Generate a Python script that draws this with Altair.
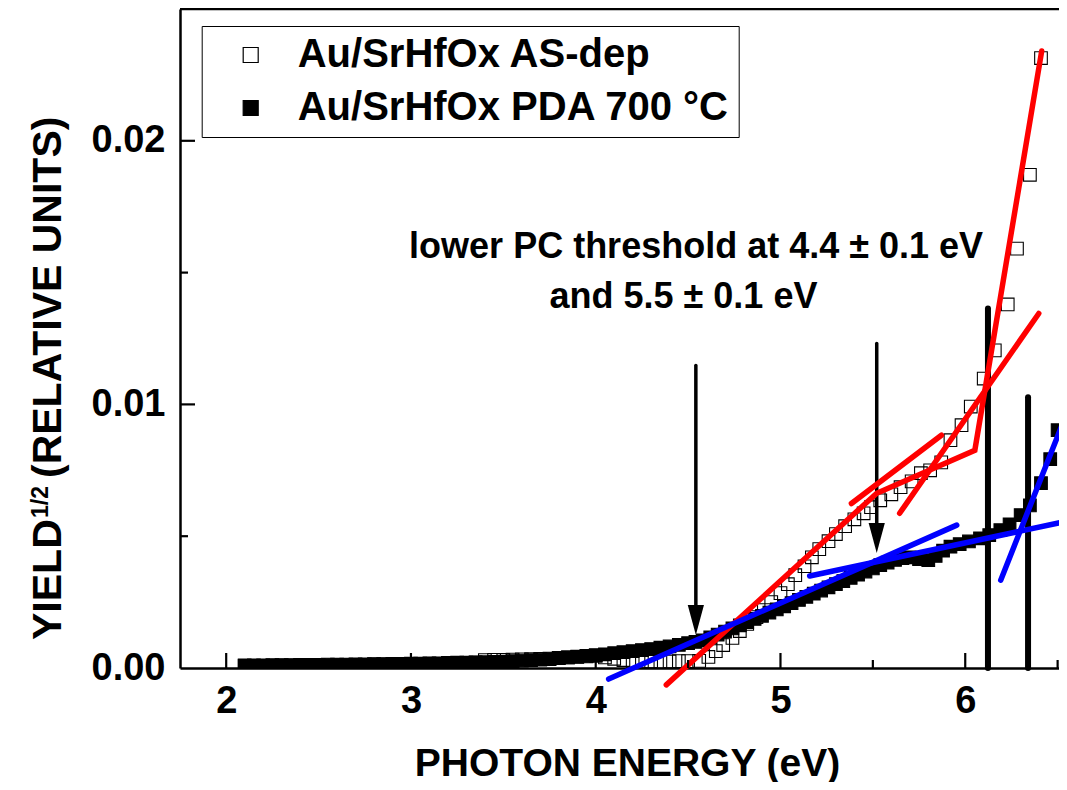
import altair as alt
import pandas as pd

FONT = "Liberation Sans"
AS_LABEL = "Au/SrHfOx AS-dep"
PDA_LABEL = "Au/SrHfOx PDA 700 °C"

# ---- open squares: Au/SrHfOx AS-dep ----
as_energy = [2.10, 2.15, 2.20, 2.25, 2.30, 2.35, 2.40, 2.45, 2.50, 2.55,
             2.60, 2.65, 2.70, 2.75, 2.80, 2.85, 2.90, 2.95, 3.00, 3.05,
             3.10, 3.15, 3.20, 3.25, 3.30, 3.35, 3.40, 3.45, 3.50, 3.55,
             3.60, 3.65, 3.70, 3.75, 3.80, 3.85, 3.90, 3.95, 4.00, 4.05,
             4.10, 4.15, 4.20, 4.25, 4.30, 4.35, 4.40, 4.45, 4.50,
             4.56, 4.61, 4.65, 4.69, 4.74, 4.78, 4.82, 4.87, 4.91, 4.95,
             5.00, 5.04, 5.08, 5.13, 5.17, 5.21, 5.26, 5.30, 5.35, 5.40,
             5.45, 5.49, 5.54, 5.60, 5.65, 5.71, 5.76, 5.81, 5.87, 5.92,
             5.98, 6.03, 6.10, 6.16, 6.23, 6.28, 6.35, 6.41]
as_yield = [0.00008, 0.00008, 0.00008, 0.00008, 0.00009, 0.00009, 0.00009, 0.00009, 0.00010, 0.00010,
            0.00011, 0.00011, 0.00012, 0.00012, 0.00013, 0.00013, 0.00014, 0.00014, 0.00015, 0.00015,
            0.00016, 0.00016, 0.00017, 0.00018, 0.00019, 0.00020, 0.00030, 0.00031, 0.00031, 0.00032,
            0.00033, 0.00034, 0.00035, 0.00036, 0.00038, 0.00040, 0.00042, 0.00044, 0.00046, 0.00040,
            0.00035, 0.00030, 0.00027, 0.00025, 0.00025, 0.00024, 0.00025, 0.00026, 0.00026,
            0.00027, 0.00042, 0.00064, 0.00087, 0.00114, 0.00140, 0.00167, 0.00193, 0.00220, 0.00250,
            0.00284, 0.00318, 0.00352, 0.00386, 0.00420, 0.00451, 0.00481, 0.00508, 0.00538, 0.00564,
            0.00587, 0.00610, 0.00636, 0.00659, 0.00686, 0.00708, 0.00739, 0.00750, 0.00780, 0.00864,
            0.00921, 0.00992, 0.01098, 0.01205, 0.01379, 0.01591, 0.01871, 0.02314]

# ---- filled squares: Au/SrHfOx PDA 700 °C ----
pda_energy = [2.10, 2.15, 2.20, 2.25, 2.30, 2.35, 2.40, 2.45, 2.50, 2.55,
              2.60, 2.65, 2.70, 2.75, 2.80, 2.85, 2.90, 2.95, 3.00, 3.05,
              3.10, 3.15, 3.20, 3.25, 3.30, 3.35, 3.40, 3.45, 3.50, 3.55,
              3.60, 3.65, 3.70, 3.75, 3.80, 3.85, 3.90, 3.95, 4.00, 4.05,
              4.10, 4.15, 4.20, 4.25, 4.30, 4.35, 4.40, 4.45, 4.50,
              4.54, 4.58, 4.62, 4.66, 4.70, 4.74, 4.78, 4.82, 4.86, 4.90,
              4.94, 4.98, 5.02, 5.06, 5.10, 5.14, 5.18, 5.22, 5.26, 5.30,
              5.34, 5.38, 5.42, 5.46, 5.50, 5.54, 5.58, 5.62, 5.66, 5.70,
              5.75, 5.80, 5.84, 5.88, 5.92, 5.97, 6.02, 6.08, 6.13, 6.19,
              6.24, 6.30, 6.35, 6.41, 6.46, 6.50]
pda_yield = [0.00010, 0.00010, 0.00010, 0.00011, 0.00011, 0.00011, 0.00012, 0.00012, 0.00012, 0.00013,
             0.00013, 0.00013, 0.00014, 0.00014, 0.00015, 0.00015, 0.00016, 0.00016, 0.00017, 0.00017,
             0.00018, 0.00018, 0.00019, 0.00020, 0.00020, 0.00021, 0.00022, 0.00023, 0.00024, 0.00026,
             0.00028, 0.00030, 0.00032, 0.00034, 0.00037, 0.00040, 0.00043, 0.00046, 0.00049, 0.00052,
             0.00056, 0.00060, 0.00064, 0.00068, 0.00072, 0.00077, 0.00082, 0.00088, 0.00094,
             0.00099, 0.00105, 0.00116, 0.00127, 0.00138, 0.00150, 0.00162, 0.00174, 0.00186, 0.00198,
             0.00210, 0.00222, 0.00234, 0.00246, 0.00258, 0.00270, 0.00282, 0.00294, 0.00306, 0.00318,
             0.00330, 0.00342, 0.00354, 0.00366, 0.00378, 0.00390, 0.00400, 0.00410, 0.00417, 0.00420,
             0.00413, 0.00409, 0.00425, 0.00445, 0.00460, 0.00470, 0.00480, 0.00492, 0.00504, 0.00523,
             0.00545, 0.00580, 0.00617, 0.00701, 0.00792, 0.00902]

# ---- fitted straight lines ----
red_id = ["r1", "r1", "r1", "r1", "r2", "r2", "r3", "r3"]
red_energy = [4.382, 5.521, 6.052, 6.414, 5.384, 5.871, 5.645, 6.398]
red_yield = [-0.00064, 0.00663, 0.00826, 0.02341, 0.00624, 0.00883, 0.00587, 0.01345]

blue_id = ["b1", "b1", "b2", "b2", "b3", "b3"]
blue_energy = [4.070, 5.954, 5.158, 6.523, 6.192, 6.549]
blue_yield = [-0.00042, 0.00542, 0.00349, 0.00553, 0.00333, 0.00966]

# ---- threshold arrows and markers ----
arrow_energy = [4.542, 5.521]
arrow_top = [0.01148, 0.01231]
arrow_shaft_end = [0.0019, 0.0049]
arrow_tip = [0.00125, 0.00436]

marker_energy = [6.123, 6.340]
marker_top = [0.01364, 0.01027]
marker_bottom = [0.0, 0.0]

note_text = ["lower PC threshold at 4.4 \u00b1 0.1 eV", "and 5.5 \u00b1 0.1 eV"]
note_energy = [2.99, 3.75]
note_yield = [0.01555, 0.01366]

x_major = [2, 3, 4, 5, 6]
x_minor = [2.5, 3.5, 4.5, 5.5, 6.5]
y_major = [0.01, 0.02]
y_minor = [0.005, 0.015]

W, H = 879, 659
xs = alt.Scale(domain=[1.75, 6.5075], nice=False, zero=False)
ys = alt.Scale(domain=[0, 0.025], nice=False, zero=False)

assert len(as_energy) == len(as_yield)
assert len(pda_energy) == len(pda_yield)

sq_df = pd.DataFrame({
    "energy": as_energy + pda_energy,
    "yield": as_yield + pda_yield,
    "series": [AS_LABEL] * len(as_energy) + [PDA_LABEL] * len(pda_energy),
})

x_axis = alt.Axis(values=x_major, format="d", ticks=False, tickSize=0, grid=False,
                  domainColor="black", domainWidth=2.5, labelFlush=False,
                  labelFont=FONT, labelFontSize=38, labelFontWeight="bold", labelColor="black",
                  labelPadding=14, title="PHOTON ENERGY (eV)", titleFont=FONT, titleFontSize=39,
                  titleFontWeight="bold", titleColor="black", titleX=447, titleY=107,
                  titleBaseline="alphabetic")
y_axis = alt.Axis(values=[0, 0.01, 0.02], format=".2f", ticks=False, tickSize=0, grid=False,
                  domainColor="black", domainWidth=2.5, labelFlush=False,
                  labelFont=FONT, labelFontSize=38, labelFontWeight="bold", labelColor="black",
                  labelPadding=15, title=None)

squares = alt.Chart(sq_df).mark_square(size=160, strokeWidth=1.1, clip=True, filled=True, opacity=1).encode(
    x=alt.X("energy:Q", scale=xs, axis=x_axis),
    y=alt.Y("yield:Q", scale=ys, axis=y_axis),
    fill=alt.Fill("series:N",
                  scale=alt.Scale(domain=[AS_LABEL, PDA_LABEL], range=["transparent", "black"]),
                  legend=alt.Legend(title=None, orient="none", legendX=21.7, legendY=17,
                                    direction="vertical", symbolType="square", symbolSize=225,
                                    symbolStrokeColor="black", symbolStrokeWidth=1.2,
                                    labelFont=FONT, labelFontSize=40, labelFontWeight="bold",
                                    labelColor="black", labelLimit=800, padding=9, rowPadding=13,
                                    symbolOffset=20, labelOffset=27,
                                    strokeColor="black", fillColor="white")),
    stroke=alt.value("black"),
)

base_x = alt.X("energy:Q", scale=xs)

red = alt.Chart(pd.DataFrame({"id": red_id, "energy": red_energy, "yield": red_yield})).mark_line(
    color="#ff0000", strokeWidth=5.5, strokeCap="round").encode(
    x=base_x, y=alt.Y("yield:Q", scale=ys), detail="id:N")
blue = alt.Chart(pd.DataFrame({"id": blue_id, "energy": blue_energy, "yield": blue_yield})).mark_line(
    color="#0000ff", strokeWidth=5.5, strokeCap="round").encode(
    x=base_x, y=alt.Y("yield:Q", scale=ys), detail="id:N")

arrow_df = pd.DataFrame({"energy": arrow_energy, "top": arrow_top, "end": arrow_shaft_end, "tip": arrow_tip})
shafts = alt.Chart(arrow_df).mark_rule(color="black", strokeWidth=3.5, strokeCap="round").encode(
    x=base_x, y=alt.Y("top:Q", scale=ys), y2="end:Q")
heads = alt.Chart(arrow_df).mark_point(shape="M0,0L-0.27,-1L0.27,-1Z", size=3600, filled=True,
                                       color="black", opacity=1, strokeWidth=0).encode(
    x=base_x, y=alt.Y("tip:Q", scale=ys))

marker_df = pd.DataFrame({"energy": marker_energy, "top": marker_top, "bottom": marker_bottom})
markers = alt.Chart(marker_df).mark_rule(color="black", strokeWidth=6, strokeCap="round").encode(
    x=base_x, y=alt.Y("top:Q", scale=ys), y2="bottom:Q")

notes = alt.Chart(pd.DataFrame({"energy": note_energy, "yield": note_yield, "t": note_text})).mark_text(
    font=FONT, fontSize=36, fontWeight="bold", color="black", align="left", baseline="alphabetic").encode(
    x=base_x, y=alt.Y("yield:Q", scale=ys), text="t:N")

xt_major = alt.Chart(pd.DataFrame({"v": x_major})).mark_rule(color="black", strokeWidth=2.2).encode(
    x=alt.X("v:Q", scale=xs), y=alt.value(H), y2=alt.value(H - 15))
xt_minor = alt.Chart(pd.DataFrame({"v": x_minor})).mark_rule(color="black", strokeWidth=2.2).encode(
    x=alt.X("v:Q", scale=xs), y=alt.value(H), y2=alt.value(H - 8))
yt_major = alt.Chart(pd.DataFrame({"v": y_major})).mark_rule(color="black", strokeWidth=2.2).encode(
    y=alt.Y("v:Q", scale=ys), x=alt.value(0), x2=alt.value(15))
yt_minor = alt.Chart(pd.DataFrame({"v": y_minor})).mark_rule(color="black", strokeWidth=2.2).encode(
    y=alt.Y("v:Q", scale=ys), x=alt.value(0), x2=alt.value(8))

one = pd.DataFrame({"a": [0]})
top_line = alt.Chart(one).mark_rule(color="black", strokeWidth=2.5).encode(
    x=alt.value(0), x2=alt.value(W), y=alt.value(0))

ytitle_main = alt.Chart(one).mark_text(font=FONT, fontSize=41, fontWeight="bold", color="black",
                                       angle=270, align="left", baseline="alphabetic").encode(
    x=alt.value(-119), y=alt.value(631), text=alt.value("YIELD"))
ytitle_sup = alt.Chart(one).mark_text(font=FONT, fontSize=23, fontWeight="bold", color="black",
                                      angle=270, align="left", baseline="alphabetic").encode(
    x=alt.value(-132), y=alt.value(509), text=alt.value("1/2"))
ytitle_rest = alt.Chart(one).mark_text(font=FONT, fontSize=41, fontWeight="bold", color="black",
                                       angle=270, align="left", baseline="alphabetic").encode(
    x=alt.value(-119), y=alt.value(469), text=alt.value("(RELATIVE UNITS)"))

chart = alt.layer(
    squares, shafts, heads, markers, red, blue, notes,
    xt_major, xt_minor, yt_major, yt_minor, top_line,
    ytitle_main, ytitle_sup, ytitle_rest,
).properties(
    width=W, height=H,
    padding={"left": 172, "top": 1, "right": 0, "bottom": 114},
    autosize=alt.AutoSizeParams(type="none"),
    background="white",
).configure_view(strokeWidth=0).configure(font=FONT)

chart.save("out.html", embed_options={"renderer": "svg", "actions": False})
